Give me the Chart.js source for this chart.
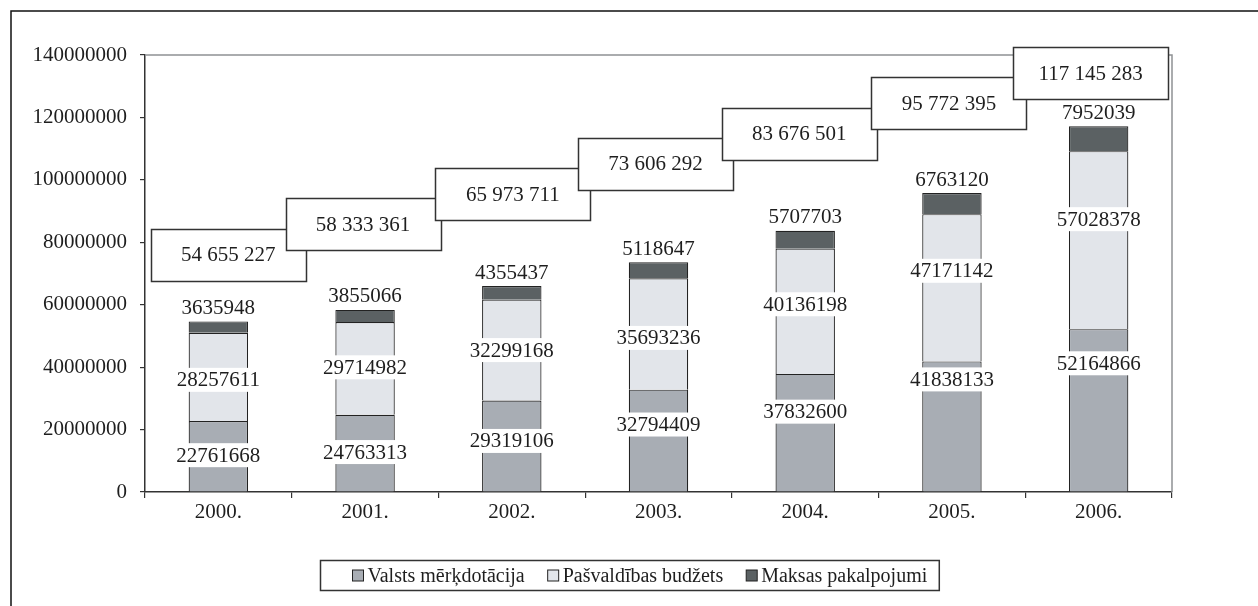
<!DOCTYPE html>
<html><head><meta charset="utf-8">
<script src="https://cdn.jsdelivr.net/npm/chart.js@4/dist/chart.umd.min.js"></script>
<style>html,body{margin:0;padding:0;background:#fff;}#wrap{width:1258px;height:606px;position:relative;}</style>
</head><body><div id="wrap"><canvas id="c" width="1258" height="606"></canvas></div>
<script>
const categories = ['2000.','2001.','2002.','2003.','2004.','2005.','2006.'];
const valsts = [22761668,24763313,29319106,32794409,37832600,41838133,52164866];
const pasvaldibas = [28257611,29714982,32299168,35693236,40136198,47171142,57028378];
const maksas = [3635948,3855066,4355437,5118647,5707703,6763120,7952039];
const seriesNames = ['Valsts mērķdotācija','Pašvaldības budžets','Maksas pakalpojumi'];
const yTickValues = [0,20000000,40000000,60000000,80000000,100000000,120000000,140000000];

// label nudges (pixels) to mimic hand-placed labels of the original
const valstsLabelNudge = [-1,-1,-5,-16,-21,-47,-47];
const pasvLabelNudge = [3,-1,0,4,-7,-17,-21];
const totalBoxNudgeX = [10,-2,1,-3,-6,-3,-8];

const FONT = "'Liberation Serif', 'Times New Roman', serif";
const fills = ['#a8adb4','#e2e5ea','#5b6163'];
const TEXT = '#1e1e1e';

const totals = categories.map((_, i) => valsts[i] + pasvaldibas[i] + maksas[i]);
const fmtSpaced = n => String(n).replace(/\B(?=(\d{3})+(?!\d))/g, ' ');

const decor = {
  id: 'decor',
  beforeDraw(chart) {
    const ctx = chart.ctx;
    ctx.save();
    ctx.fillStyle = '#fff';
    ctx.fillRect(0, 0, chart.width, chart.height);
    ctx.strokeStyle = '#111';
    ctx.lineWidth = 1.5;
    ctx.beginPath();
    ctx.moveTo(11, chart.height + 2);
    ctx.lineTo(11, 11);
    ctx.lineTo(chart.width + 2, 11);
    ctx.stroke();
    ctx.restore();
  },
  afterDraw(chart) {
    const ctx = chart.ctx;
    const a = chart.chartArea;
    const ys = chart.scales.y;
    ctx.save();
    ctx.strokeStyle = '#8f9194';
    ctx.lineWidth = 1.5;
    ctx.beginPath();
    ctx.moveTo(a.left, a.top);
    ctx.lineTo(a.right, a.top);
    ctx.lineTo(a.right, a.bottom);
    ctx.stroke();

    ctx.font = '21px ' + FONT;
    ctx.textAlign = 'center';
    ctx.textBaseline = 'middle';
    const nudges = [valstsLabelNudge, pasvLabelNudge];
    [0, 1].forEach(d => {
      const meta = chart.getDatasetMeta(d);
      meta.data.forEach((bar, i) => {
        const txt = String(chart.data.datasets[d].data[i]);
        const cy = (bar.y + bar.base) / 2 + nudges[d][i];
        const w = ctx.measureText(txt).width + 4;
        ctx.fillStyle = '#fff';
        ctx.fillRect(bar.x - w / 2, cy - 12, w, 24);
        ctx.fillStyle = TEXT;
        ctx.fillText(txt, bar.x, cy + 1);
      });
    });
    const top = chart.getDatasetMeta(2);
    top.data.forEach((bar, i) => {
      ctx.fillStyle = TEXT;
      ctx.fillText(String(chart.data.datasets[2].data[i]), bar.x, bar.y - 13);
    });

    top.data.forEach((bar, i) => {
      const cy = ys.getPixelForValue(76000000 + i * 9700000);
      const cx = bar.x + totalBoxNudgeX[i];
      const bw = 155, bh = 52;
      const x0 = Math.round(cx - bw / 2) + 0.5, y0 = Math.round(cy - bh / 2) + 0.5;
      ctx.fillStyle = '#fff';
      ctx.fillRect(x0, y0, bw, bh);
      ctx.strokeStyle = '#333';
      ctx.lineWidth = 1.5;
      ctx.strokeRect(x0, y0, bw, bh);
      ctx.fillStyle = TEXT;
      ctx.fillText(fmtSpaced(totals[i]), cx, cy + 1);
    });

    ctx.font = '20px ' + FONT;
    const sq = 11, gapTxt = 4, gapItem = 23, padL = 32, padR = 12;
    const widths = seriesNames.map(s => ctx.measureText(s).width);
    let total = padL + padR;
    widths.forEach((w, k) => { total += sq + gapTxt + w + (k ? gapItem : 0); });
    const lx = Math.round(chart.width / 2 - total / 2) + 0.5;
    const ly = 560.5, lh = 30;
    ctx.fillStyle = '#fff';
    ctx.fillRect(lx, ly, total, lh);
    ctx.strokeStyle = '#333';
    ctx.lineWidth = 1.5;
    ctx.strokeRect(lx, ly, total, lh);
    let x = lx + padL;
    const cy = ly + lh / 2;
    ctx.textAlign = 'left';
    seriesNames.forEach((s, k) => {
      ctx.fillStyle = fills[k];
      ctx.fillRect(x, cy - sq / 2, sq, sq);
      ctx.strokeStyle = '#222';
      ctx.lineWidth = 1;
      ctx.strokeRect(x, cy - sq / 2, sq, sq);
      ctx.fillStyle = TEXT;
      ctx.fillText(s, x + sq + gapTxt, cy + 1);
      x += sq + gapTxt + widths[k] + gapItem;
    });
    ctx.restore();
  }
};

new Chart(document.getElementById('c'), {
  type: 'bar',
  data: {
    labels: categories,
    datasets: [
      { label: seriesNames[0], data: valsts, backgroundColor: fills[0] },
      { label: seriesNames[1], data: pasvaldibas, backgroundColor: fills[1] },
      { label: seriesNames[2], data: maksas, backgroundColor: fills[2] }
    ].map(d => Object.assign(d, { borderColor: '#222', borderWidth: 1.2, barPercentage: 0.405, categoryPercentage: 1 }))
  },
  options: {
    responsive: false,
    animation: false,
    layout: { padding: { top: 55, right: 86, left: 0, bottom: 0 } },
    plugins: { legend: { display: false }, tooltip: { enabled: false } },
    scales: {
      x: {
        stacked: true,
        grid: { offset: true, drawOnChartArea: false, drawTicks: true, tickLength: 6, color: '#333', lineWidth: 1.2 },
        border: { color: '#333', width: 1.5 },
        ticks: { font: { family: FONT, size: 21 }, color: TEXT, padding: 2 },
        afterFit(s) { s.height = 114; }
      },
      y: {
        stacked: true,
        min: 0, max: 140000000,
        afterBuildTicks(s) { s.ticks = yTickValues.map(v => ({ value: v })); },
        grid: { drawOnChartArea: false, drawTicks: true, tickLength: 5, color: '#333', lineWidth: 1.2 },
        border: { color: '#333', width: 1.5 },
        ticks: { font: { family: FONT, size: 21 }, color: TEXT, padding: 13, callback: v => String(v) },
        afterFit(s) { s.width = 145; }
      }
    }
  },
  plugins: [decor]
});
</script></body></html>
